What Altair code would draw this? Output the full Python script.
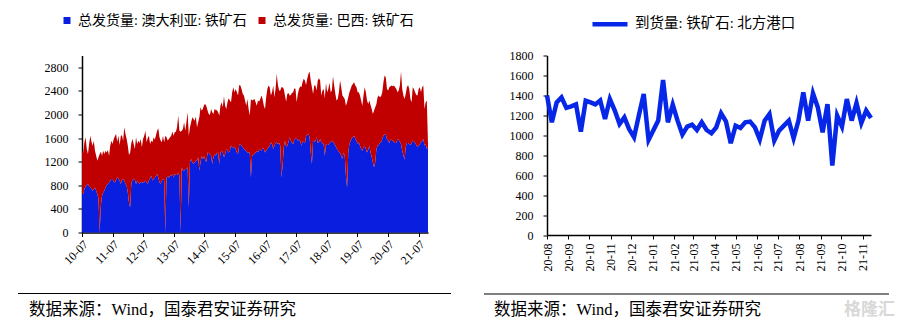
import altair as alt
import pandas as pd

FONT = "Liberation Serif, Times New Roman, Noto Sans CJK SC, serif"
BLUE = "#0a1ee0"
RED = "#c00000"
LINE_BLUE = "#0626e8"

AUS_LABEL = "总发货量: 澳大利亚: 铁矿石"
BRA_LABEL = "总发货量: 巴西: 铁矿石"
PORT_LABEL = "到货量: 铁矿石: 北方港口"
SOURCE = "数据来源：Wind，国泰君安证券研究"

# ---- Left chart (biweekly samples, 2010-07 .. 2021-10), 万吨 ----
# Australia shipments (blue, from 0)
aus_10 = [651, 651, 736, 781, 804, 820, 781, 764, 736, 707, 736, 764, 707, 651, 566, 0, 453, 622, 679, 707, 764, 804, 820, 849, 877, 906]
aus_11 = [906, 860, 849, 894, 934, 917, 877, 820, 894, 906, 877, 820, 792, 679, 509, 424, 849, 877, 917, 894, 820, 877, 849, 820, 860, 849]
aus_12 = [850, 850, 880, 850, 820, 880, 930, 960, 880, 905, 930, 960, 990, 930, 850, 820, 880, 905, 880, 0, 930, 960, 930, 960, 960, 990]
aus_13 = [934, 990, 973, 973, 1019, 962, 0, 1104, 1047, 1047, 1075, 1075, 1104, 424, 1189, 1245, 1189, 1160, 1189, 1217, 1217, 1274, 1047, 1189, 1302, 1245]
aus_14 = [1290, 1234, 1189, 1358, 1347, 1324, 1302, 1160, 1274, 1330, 1302, 1347, 1358, 1160, 1358, 1387, 1358, 1274, 1330, 1415, 1387, 1358, 1387, 1472, 1443, 1443]
aus_15 = [1443, 1415, 1358, 1330, 1483, 1500, 1472, 1443, 1415, 1404, 1387, 1358, 1358, 1358, 934, 1302, 1313, 1330, 1358, 1387, 1358, 1404, 1404, 1387, 1432, 1415]
aus_16 = [1358, 1381, 1415, 1443, 1472, 1528, 1500, 1415, 1472, 1517, 1528, 1500, 1517, 1472, 934, 1132, 1443, 1557, 1443, 1472, 1528, 1613, 1557, 1517, 1500, 1574]
aus_17 = [1596, 1600, 1557, 1574, 1557, 1472, 1540, 1540, 1511, 1630, 1653, 1670, 1613, 1358, 1160, 1557, 1540, 1557, 1613, 1517, 1528, 1585, 1528, 1511, 1500, 1302]
aus_18 = [1500, 1483, 1483, 1517, 1540, 1551, 1528, 1511, 1472, 1432, 1398, 1370, 1347, 1302, 1245, 1358, 1302, 962, 764, 1358, 1500, 1557, 1596, 1613, 1641, 1585]
aus_19 = [1557, 1500, 1528, 1472, 1415, 1387, 1443, 1472, 1415, 1358, 1404, 1472, 1358, 1274, 1189, 1104, 1189, 1415, 1472, 1483, 1517, 1528, 1585, 1641, 1670, 1653]
aus_20 = [1585, 1557, 1517, 1574, 1574, 1551, 1540, 1517, 1517, 1585, 1568, 1540, 1500, 1387, 1313, 1234, 1443, 1517, 1517, 1500, 1489, 1517, 1557, 1545, 1517, 1483]
aus_21 = [1443, 1472, 1500, 1528, 1557, 1585, 1472, 1500, 1420, 1440]

# Top of the stack: Australia + Brazil (red band runs from Australia up to here)
top_10 = [1387, 1358, 1528, 1613, 1415, 1330, 1500, 1641, 1540, 1472, 1557, 1387, 1302, 1217, 1274, 1330, 1370, 1302, 1387, 1330, 1387, 1358, 1398, 1302, 1472, 1557]
top_11 = [1500, 1585, 1630, 1670, 1540, 1641, 1483, 1630, 1653, 1557, 1783, 1670, 1585, 1472, 1313, 1358, 1517, 1585, 1500, 1415, 1613, 1500, 1557, 1517, 1585, 1443]
top_12 = [1585, 1640, 1726, 1528, 1600, 1640, 1500, 1560, 1528, 1613, 1570, 1650, 1726, 1766, 1613, 1560, 1528, 1640, 1528, 1640, 1613, 1560, 1585, 1613, 1640, 1710]
top_13 = [1641, 1698, 1709, 1783, 1981, 1726, 1709, 1726, 1755, 1868, 1726, 1868, 2037, 1641, 1783, 1868, 1953, 1924, 1896, 1964, 1783, 1868, 1953, 2122, 2066, 2094]
top_14 = [2162, 2179, 2139, 2066, 2009, 1992, 2094, 2037, 2009, 2094, 2077, 2071, 2037, 1981, 2150, 2207, 2122, 2309, 2150, 2094, 2207, 2275, 2236, 2207, 2377, 2462]
top_15 = [2377, 2434, 2377, 2321, 2502, 2490, 2434, 2349, 2321, 2236, 2150, 2264, 2094, 1981, 2264, 2236, 2250, 2264, 2207, 2150, 2236, 2219, 2264, 2321, 2253, 2150]
top_16 = [2094, 2292, 2434, 2490, 2462, 2321, 2377, 2490, 2292, 2434, 2688, 2502, 2405, 2405, 2462, 2462, 2434, 2321, 2219, 2349, 2366, 2321, 2332, 2366, 2377, 2445]
top_17 = [2434, 2207, 2349, 2434, 2479, 2462, 2547, 2604, 2575, 2502, 2604, 2688, 2728, 2575, 2462, 2349, 2490, 2490, 2405, 2575, 2615, 2575, 2321, 2405, 2434, 2275]
top_18 = [2536, 2377, 2434, 2536, 2377, 2405, 2649, 2490, 2349, 2236, 2264, 2377, 2575, 2462, 2321, 2292, 2264, 2150, 2207, 2292, 2377, 2434, 2490, 2519, 2547, 2490]
top_19 = [2462, 2377, 2377, 2321, 2236, 2150, 2321, 2462, 2377, 2236, 2179, 2236, 2162, 2094, 2009, 2066, 2122, 2179, 2292, 2321, 2292, 2309, 2377, 2547, 2660, 2632]
top_20 = [2434, 2405, 2462, 2479, 2490, 2479, 2490, 2462, 2434, 2377, 2405, 2490, 2728, 2434, 2321, 2264, 2349, 2462, 2502, 2434, 2264, 2207, 2462, 2434, 2377, 2332]
top_21 = [2321, 2434, 2462, 2377, 2462, 2490, 2094, 2207, 2234, 1500]

aus = aus_10 + aus_11 + aus_12 + aus_13 + aus_14 + aus_15 + aus_16 + aus_17 + aus_18 + aus_19 + aus_20 + aus_21
top = top_10 + top_11 + top_12 + top_13 + top_14 + top_15 + top_16 + top_17 + top_18 + top_19 + top_20 + top_21

left_ticks = ["2010-07-01", "2011-07-01", "2012-07-01", "2013-07-01", "2014-07-01", "2015-07-01",
              "2016-07-01", "2017-07-01", "2018-07-01", "2019-07-01", "2020-07-01", "2021-07-01"]
left_yticks = [0, 400, 800, 1200, 1600, 2000, 2400, 2800]

# ---- Right chart (weekly, 2020-08 .. 2021-11), 万吨 ----
port = [1400, 1130, 1330, 1380, 1275, 1290, 1310, 1037, 1347, 1330, 1310, 1350, 1163, 1363, 1250, 1113, 1180,
        1060, 980, 1200, 1413, 953, 1050, 1147, 1553, 1130, 1307, 1147, 1007, 1087, 1107, 1053, 1130,
        1053, 1020, 1080, 1220, 1140, 920, 1097, 1073, 1130, 1137, 1080, 957, 1147, 1213, 947, 1047, 1097,
        1147, 970, 1147, 1430, 1147, 1420, 1280, 1030, 1313, 697, 1197, 1087, 1363, 1147, 1323, 1123, 1247, 1173]

right_ticks = ["2020-08-01", "2020-09-01", "2020-10-01", "2020-11-01", "2020-12-01", "2021-01-01",
               "2021-02-01", "2021-03-01", "2021-04-01", "2021-05-01", "2021-06-01", "2021-07-01",
               "2021-08-01", "2021-09-01", "2021-10-01", "2021-11-01"]
right_yticks = [0, 200, 400, 600, 800, 1000, 1200, 1400, 1600, 1800]

left_df = pd.DataFrame({
    "date": pd.date_range("2010-07-02", periods=len(aus), freq="14D").strftime("%Y-%m-%d"),
    "aus": aus,
    "top": top,
    "s_aus": AUS_LABEL,
    "s_bra": BRA_LABEL,
})
right_df = pd.DataFrame({
    "date": pd.date_range("2020-08-01", periods=len(port), freq="7D").strftime("%Y-%m-%d"),
    "port": port,
    "s": PORT_LABEL,
})
src_df = pd.DataFrame({"t": [SOURCE]})
wm_df = pd.DataFrame({"t": ["格隆汇"]})
one_df = pd.DataFrame({"k": [0]})


def dt(s):
    y, m, d = s.split("-")
    return alt.DateTime(year=int(y), month=int(m), date=int(d))


LW, LH = 346, 177
RW, RH = 324, 179.5

left_scale = alt.Scale(domain=[AUS_LABEL, BRA_LABEL], range=[BLUE, RED])
left_legend = alt.Legend(orient="none", legendX=-22, legendY=-42, direction="horizontal",
                         symbolType="square", symbolSize=49, symbolStrokeWidth=0,
                         columnPadding=8, labelOffset=4, labelFontSize=14, title=None)

x_left = alt.X("date:T", title=None,
               scale=alt.Scale(domain=[dt("2010-07-01"), dt("2021-10-22")]),
               axis=alt.Axis(values=[dt(s) for s in left_ticks], format="%y-%m", labelAngle=315,
                             labelPadding=2, tickSize=4, labelOverlap=False))
y_left_scale = alt.Scale(domain=[0, 3000], nice=False)
y_left_axis = alt.Axis(values=left_yticks, format="d", labelPadding=10, tickSize=4,
                       labelOverlap=False, tickCount=8)

blue_area = alt.Chart(left_df).mark_area(opacity=1, interpolate="linear").encode(
    x=x_left,
    y=alt.Y("aus:Q", title=None, stack=None, scale=y_left_scale, axis=y_left_axis),
    color=alt.Color("s_aus:N", scale=left_scale, legend=left_legend),
)
red_area = alt.Chart(left_df).mark_area(opacity=1, interpolate="linear").encode(
    x=x_left,
    y=alt.Y("top:Q", title=None, scale=y_left_scale, axis=y_left_axis),
    y2="aus:Q",
    color=alt.Color("s_bra:N", scale=left_scale, legend=left_legend),
)
left_rule = alt.Chart(one_df).mark_rule(color="#000", strokeWidth=1.2).encode(
    x=alt.value(-64), x2=alt.value(369), y=alt.value(238))
left_src = alt.Chart(src_df).mark_text(font=FONT, fontSize=16.5, align="left", baseline="middle",
                                        color="#000").encode(
    x=alt.value(-53), y=alt.value(254), text="t:N")

left = alt.layer(blue_area, red_area, left_rule, left_src).properties(width=LW, height=LH)

right_scale = alt.Scale(domain=[PORT_LABEL], range=[LINE_BLUE])
right_legend = alt.Legend(orient="none", legendX=43, legendY=-51.3, direction="horizontal",
                          symbolType="stroke", symbolSize=1225, symbolStrokeWidth=4.5,
                          labelOffset=5, labelFontSize=14.5, title=None)
line = alt.Chart(right_df).mark_line(strokeWidth=4.5, interpolate="linear").encode(
    x=alt.X("date:T", title=None,
            scale=alt.Scale(domain=[dt("2020-08-01"), dt("2021-11-13")]),
            axis=alt.Axis(values=[dt(s) for s in right_ticks], format="%y-%m", labelAngle=270,
                          labelPadding=4, tickSize=4, labelOverlap=False)),
    y=alt.Y("port:Q", title=None, scale=alt.Scale(domain=[0, 1800], nice=False),
            axis=alt.Axis(values=right_yticks, format="d", labelPadding=10,
                          tickSize=4, labelOverlap=False)),
    color=alt.Color("s:N", scale=right_scale, legend=right_legend),
)
right_rule = alt.Chart(one_df).mark_rule(color="#000", strokeWidth=1.2).encode(
    x=alt.value(-63), x2=alt.value(342), y=alt.value(238.5))
right_src = alt.Chart(src_df).mark_text(font=FONT, fontSize=16.5, align="left", baseline="middle",
                                         color="#000").encode(
    x=alt.value(-53), y=alt.value(254.5), text="t:N")
watermark = alt.Chart(wm_df).mark_text(font="Noto Sans CJK SC", fontSize=17, fontWeight="bold",
                                       align="left", baseline="middle", color="#d8d8d8").encode(
    x=alt.value(297), y=alt.value(254.5), text="t:N")

right = alt.layer(line, right_rule, right_src, watermark).properties(width=RW, height=RH)

chart = alt.hconcat(left, right, spacing=119, bounds="flush").resolve_scale(
    color="independent").resolve_legend(color="independent").properties(
    padding={"left": 17, "top": 3.5, "right": 2, "bottom": 2},
    background="white",
).configure_view(stroke=None).configure_axis(
    labelFont=FONT, labelFontSize=12, labelColor="#000", domainColor="#000", tickColor="#000",
    domainWidth=1.5, tickWidth=1, grid=False,
).configure_legend(
    labelFont=FONT, labelColor="#000", labelLimit=400,
)

chart.save("out.html", embed_options={"renderer": "svg", "actions": False})
